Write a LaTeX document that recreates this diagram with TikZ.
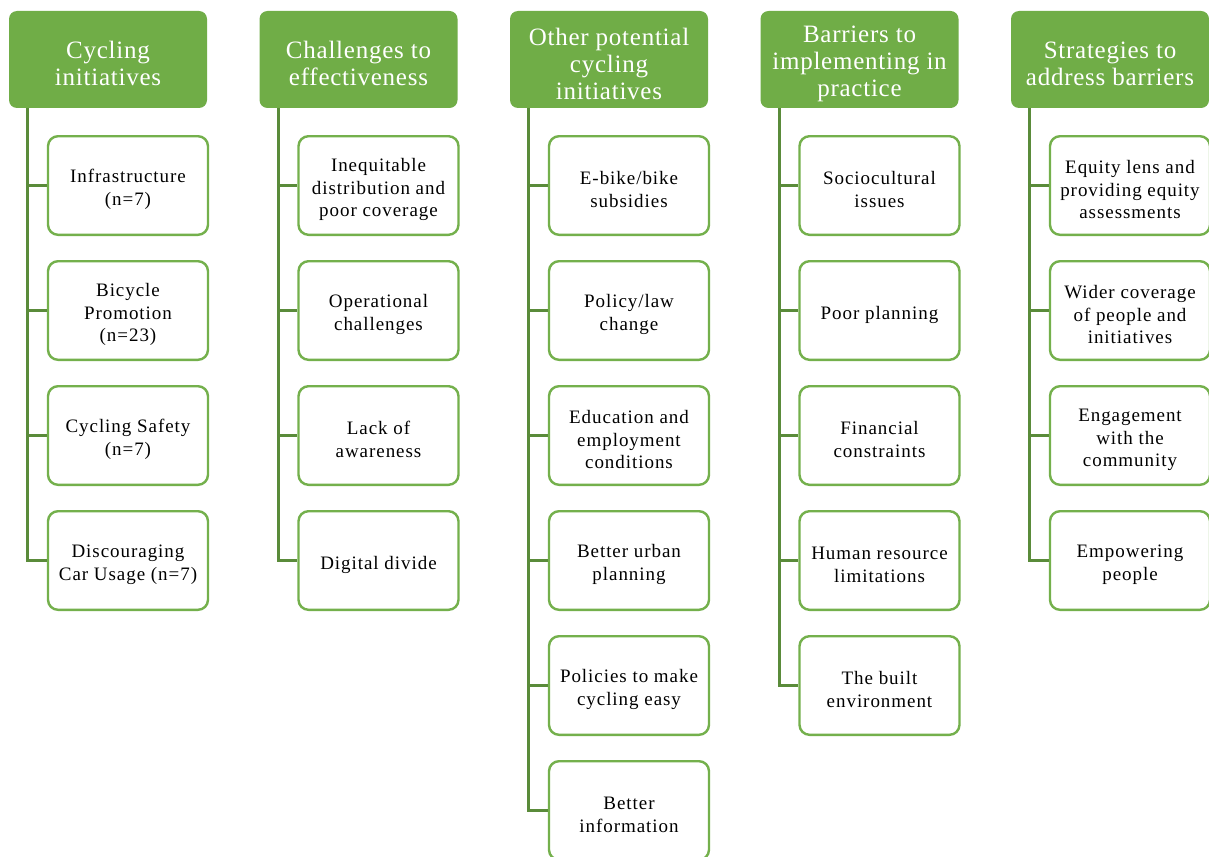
\documentclass[tikz,border=0pt]{standalone}
\usepackage{fontspec}
\setmainfont{Liberation Serif}
\newfontfamily\hdrfont[LetterSpace=3]{Liberation Serif}
\newfontfamily\itemfont[LetterSpace=5]{Liberation Serif}
\definecolor{hdrgreen}{HTML}{70AD47}
\definecolor{boxgreen}{HTML}{74B04C}
\definecolor{linegreen}{HTML}{5A8B3A}
% taller first-line struts push the text blocks slightly down in their boxes
\newcommand{\hstrut}{\rule{0pt}{26pt}}
\newcommand{\istrut}{\rule{0pt}{21.5pt}}
\begin{document}
\begin{tikzpicture}[x=1pt,y=-1pt,
  hdr/.style={fill=hdrgreen, rounded corners=8pt, minimum width=198pt,
    minimum height=97pt, text=white, align=center, inner sep=0pt,
    font=\hdrfont\fontsize{25}{27}\selectfont},
  item/.style={draw=boxgreen, line width=2.4pt, fill=white, rounded corners=10pt,
    minimum width=160pt, minimum height=98.6pt, align=center, inner sep=0pt,
    font=\itemfont\fontsize{19}{22.5}\selectfont},
  conn/.style={draw=linegreen, line width=3pt}]
\clip (0,0) rectangle (1209,856);
\fill[white] (0,0) rectangle (1209,856);

% column headers
\node[hdr] (h1) at (108,59.5)    {\hstrut Cycling\\initiatives};
\node[hdr] (h2) at (358.5,59.5)  {\hstrut Challenges to\\effectiveness};
\node[hdr] (h3) at (609,59.5)    {\hstrut Other potential\\cycling\\initiatives};
\node[hdr] (h4) at (859.5,59.5)  {\hstrut Barriers to\\implementing in\\practice};
\node[hdr] (h5) at (1110,59.5)   {\hstrut Strategies to\\address barriers};

% column 1
\node[item] (c1-1) at (128,185.5) {\istrut Infrastructure\\(n=7)};
\node[item] (c1-2) at (128,310.5) {\istrut Bicycle\\Promotion\\(n=23)};
\node[item] (c1-3) at (128,435.5) {\istrut Cycling Safety\\(n=7)};
\node[item] (c1-4) at (128,560.5) {\istrut Discouraging\\Car Usage (n=7)};

% column 2
\node[item] (c2-1) at (378.5,185.5) {\istrut Inequitable\\distribution and\\poor coverage};
\node[item] (c2-2) at (378.5,310.5) {\istrut Operational\\challenges};
\node[item] (c2-3) at (378.5,435.5) {\istrut Lack of\\awareness};
\node[item] (c2-4) at (378.5,560.5) {\istrut Digital divide};

% column 3
\node[item] (c3-1) at (629,185.5) {\istrut E-bike/bike\\subsidies};
\node[item] (c3-2) at (629,310.5) {\istrut Policy/law\\change};
\node[item] (c3-3) at (629,435.5) {\istrut Education and\\employment\\conditions};
\node[item] (c3-4) at (629,560.5) {\istrut Better urban\\planning};
\node[item] (c3-5) at (629,685.5) {\istrut Policies to make\\cycling easy};
\node[item] (c3-6) at (629,810.5) {\istrut Better\\information};

% column 4
\node[item] (c4-1) at (879.5,185.5) {\istrut Sociocultural\\issues};
\node[item] (c4-2) at (879.5,310.5) {\istrut Poor planning};
\node[item] (c4-3) at (879.5,435.5) {\istrut Financial\\constraints};
\node[item] (c4-4) at (879.5,560.5) {\istrut Human resource\\limitations};
\node[item] (c4-5) at (879.5,685.5) {\istrut The built\\environment};

% column 5
\node[item] (c5-1) at (1130,185.5) {\istrut Equity lens and\\providing equity\\assessments};
\node[item] (c5-2) at (1130,310.5) {\istrut Wider coverage\\of people and\\initiatives};
\node[item] (c5-3) at (1130,435.5) {\istrut Engagement\\with the\\community};
\node[item] (c5-4) at (1130,560.5) {\istrut Empowering\\people};

% trunks and branches
\foreach \c/\n in {1/4,2/4,3/6,4/5,5/4} {
  \coordinate (s\c) at ([xshift=19pt]h\c.south west);
  \draw[conn] (s\c) |- (c\c-\n.west);
  \foreach \k in {1,...,\n}
    \draw[conn] (s\c |- c\c-\k.west) -- (c\c-\k.west);
}
\end{tikzpicture}
\end{document}
